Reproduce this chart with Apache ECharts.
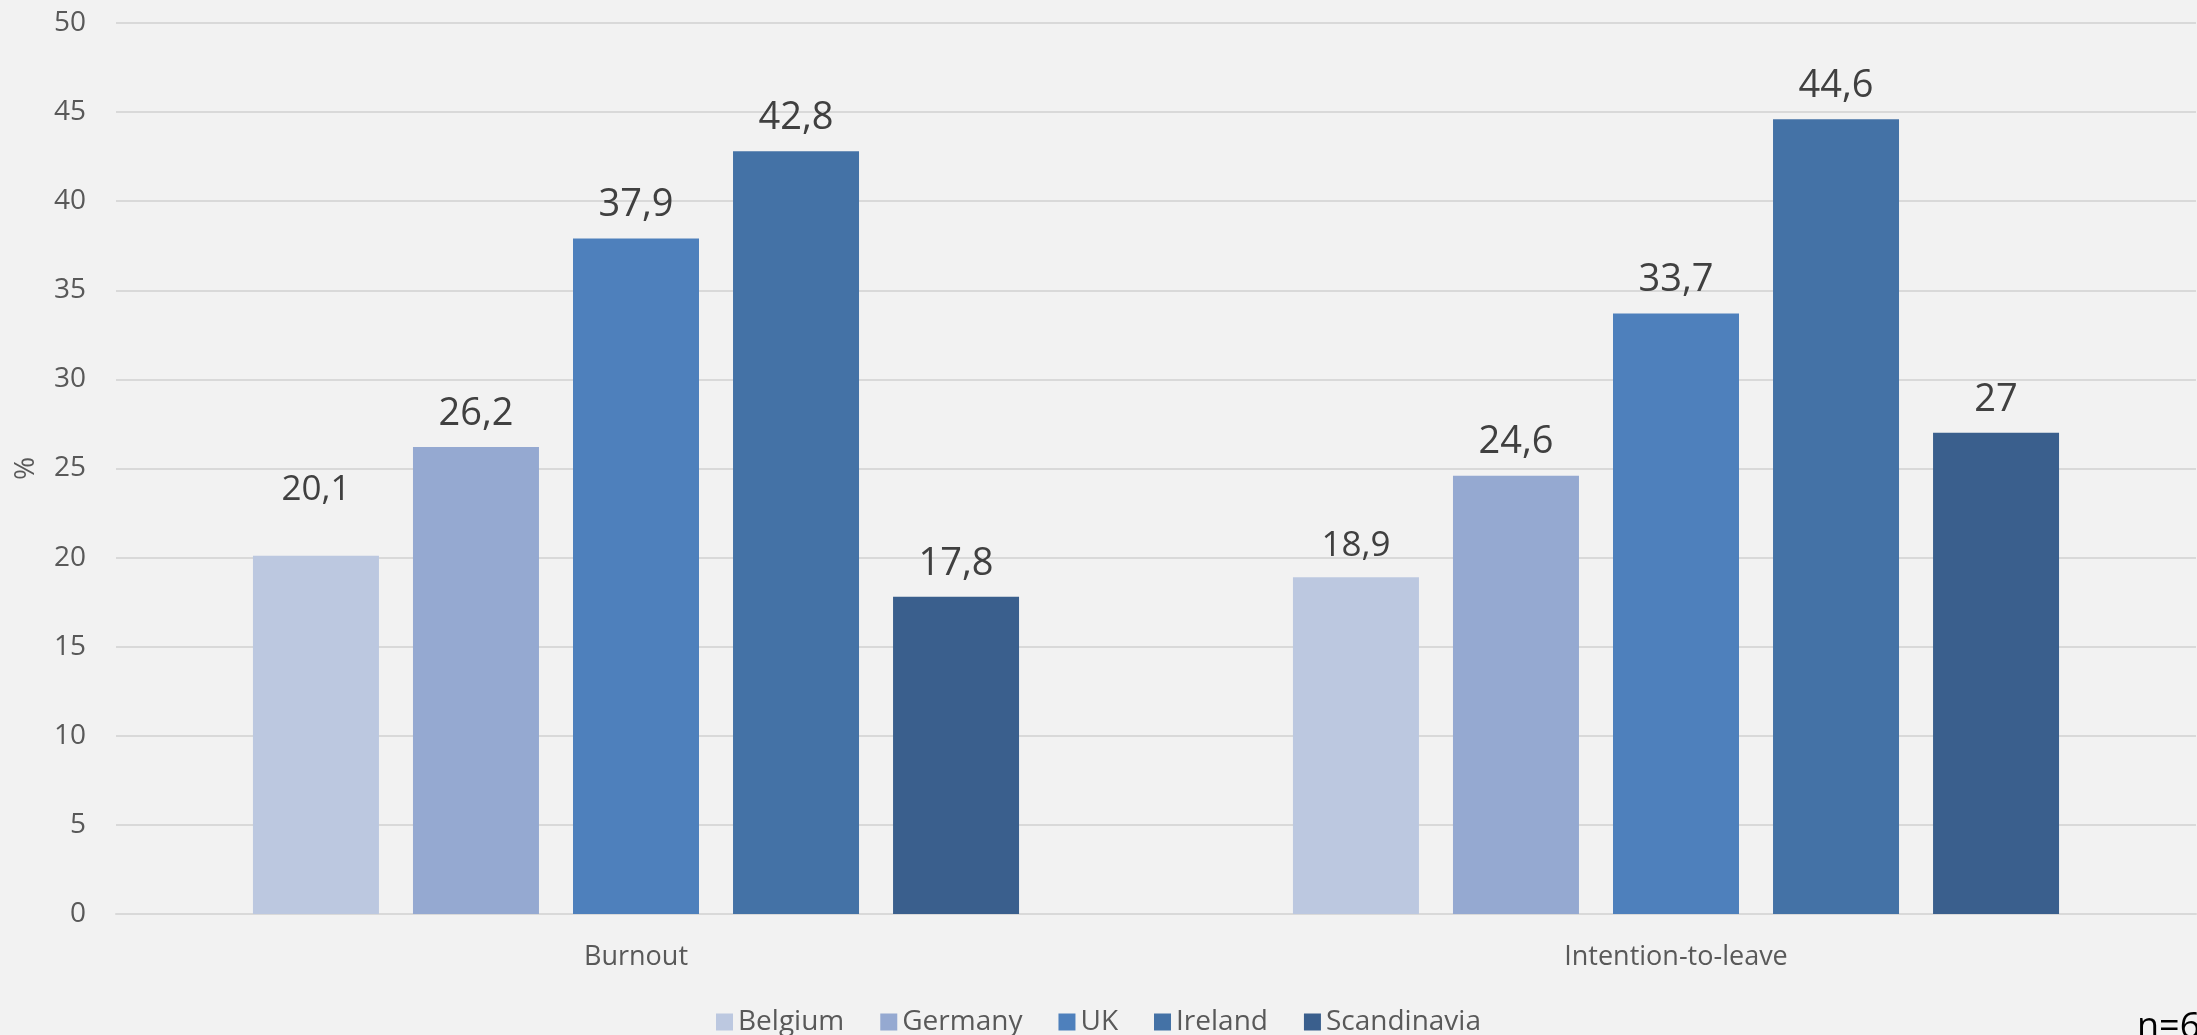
<!DOCTYPE html>
<html>
<head>
<meta charset="utf-8">
<script src="https://cdn.jsdelivr.net/npm/echarts@6/dist/echarts.min.js"></script>
<style>
html,body{margin:0;padding:0;background:#F2F2F2;}
#c{width:2197px;height:1035px;}
</style>
</head>
<body>
<div id="c"></div>
<script>
const categories = ["Burnout", "Intention-to-leave"];
const seriesNames = ["Belgium", "Germany", "UK", "Ireland", "Scandinavia"];
const belgium = [20.1, 18.9];
const germany = [26.2, 24.6];
const uk = [37.9, 33.7];
const ireland = [42.8, 44.6];
const scandinavia = [17.8, 27];
const yTicks = [0, 5, 10, 15, 20, 25, 30, 35, 40, 45, 50];
const footnote = "n=6";

const values = [belgium, germany, uk, ireland, scandinavia];
const colors = ["#BCC8E0", "#95A9D1", "#4E80BC", "#4472A6", "#3A5F8D"];
const labelSizes = [35, 38, 38, 38, 38];
const FONT = "'Open Sans', 'Noto Sans', sans-serif";

const chart = echarts.init(document.getElementById('c'));
chart.setOption({
  backgroundColor: '#F2F2F2',
  animation: false,
  textStyle: {fontFamily: FONT},
  grid: {left: 116, right: 1, top: 23, bottom: 121, containLabel: false, outerBoundsMode: 'none'},
  legend: {
    data: seriesNames,
    top: 1003,
    left: 'center',
    itemWidth: 17,
    itemHeight: 17,
    itemGap: 36,
    icon: 'rect',
    textStyle: {fontSize: 28, color: '#595959', fontFamily: FONT}
  },
  xAxis: {
    type: 'category',
    data: categories,
    axisLine: {show: true, lineStyle: {color: '#D9D9D9', width: 2}},
    axisTick: {show: false},
    axisLabel: {fontSize: 27, color: '#595959', margin: 30, fontFamily: FONT}
  },
  yAxis: {
    type: 'value',
    min: yTicks[0],
    max: yTicks[yTicks.length - 1],
    interval: 5,
    name: '%',
    nameLocation: 'middle',
    nameGap: 76,
    nameTextStyle: {fontSize: 28, color: '#595959', fontFamily: FONT},
    axisLine: {show: false},
    axisTick: {show: false},
    splitLine: {lineStyle: {color: '#D9D9D9', width: 2}},
    axisLabel: {fontSize: 28, color: '#595959', margin: 30, fontFamily: FONT}
  },
  series: seriesNames.map((n, i) => ({
    name: n,
    type: 'bar',
    data: values[i].map((v, j) => (i === 0 && j === 0) ? {value: v, label: {distance: 48}} : v),
    barWidth: 126,
    barGap: '27%',
    itemStyle: {color: colors[i]},
    label: {
      show: true,
      position: 'top',
      distance: 14,
      fontSize: labelSizes[i],
      color: '#404040',
      fontFamily: FONT,
      formatter: p => String(p.value).replace('.', ',')
    }
  })),
  graphic: [{
    type: 'text',
    left: 2137,
    top: 1010,
    style: {text: footnote, fontSize: 36, fill: '#000000', fontFamily: FONT}
  }]
});
</script>
</body>
</html>
